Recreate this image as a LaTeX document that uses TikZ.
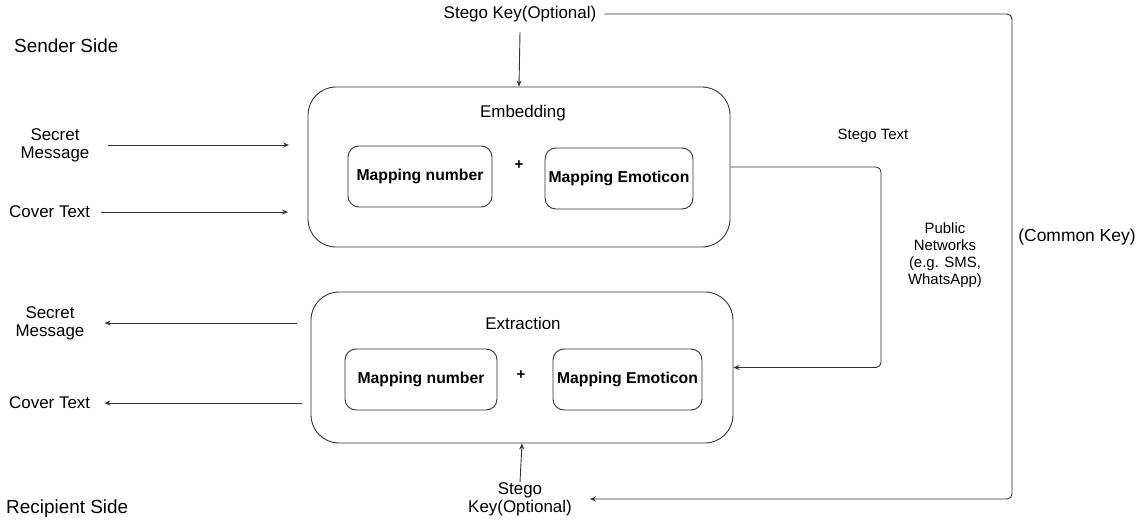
\documentclass[tikz,border=0pt]{standalone}
\usepackage{fontspec}
\setmainfont{Liberation Sans}
\usetikzlibrary{positioning,arrows.meta}

\tikzset{
  bigbox/.style={draw=black!80, line width=0.9bp, rounded corners=28bp, inner sep=0},
  mapbox/.style={draw=black!80, line width=0.9bp, rounded corners=11bp, inner sep=0,
    font=\bfseries\fontsize{15.8}{18}\selectfont},
  lbl/.style={font=\fontsize{17}{18}\selectfont, align=center, inner sep=0},
  smalllbl/.style={font=\fontsize{15}{17}\selectfont, align=center, inner sep=0},
  sidelbl/.style={font=\fontsize{19}{21}\selectfont, inner sep=0},
  plussign/.style={font=\bfseries\fontsize{15}{17}\selectfont, inner sep=0},
  link/.style={draw=black!80, line width=0.9bp, -{Stealth[length=6bp,width=5bp]}},
}

\begin{document}
\begin{tikzpicture}[x=1bp,y=-1bp]
\useasboundingbox (0,0) rectangle (1144,520);
% Seiten
\node[sidelbl,anchor=west] (sender) at (14,46) {Sender Side};
\node[sidelbl,anchor=west] (recipient) at (6,509) {Recipient Side};
% Embedding
\node[bigbox,minimum width=422bp,minimum height=160bp] (emb) at (519,167) {};
\node[lbl] (embtitle) at (523,113) {Embedding};
\node[mapbox,minimum width=144bp,minimum height=61bp] (embnum) at (420,176.5) {Mapping number};
\node[plussign] (embplus) at (519,165) {+};
\node[mapbox,minimum width=148bp,minimum height=61bp] (embemo) at (619,178.5) {Mapping Emoticon};
% Extraction
\node[bigbox,minimum width=422bp,minimum height=151bp] (ext) at (522,367.5) {};
\node[lbl] (exttitle) at (523,323) {Extraction};
\node[mapbox,minimum width=152bp,minimum height=61bp] (extnum) at (421,379.5) {Mapping number};
\node[plussign] (extplus) at (521,375) {+};
\node[mapbox,minimum width=149bp,minimum height=61bp] (extemo) at (627.5,379.5) {Mapping Emoticon};
% Eingaben / Ausgaben
\node[lbl] (secretin) at (55,145) {Secret\\Message};
\node[lbl,anchor=west] (coverin) at (9,212) {Cover Text};
\node[lbl] (secretout) at (50,323) {Secret\\Message};
\node[lbl,anchor=west] (coverout) at (9,403) {Cover Text};
% Schluessel
\node[lbl] (keyin) at (520,14) {Stego Key(Optional)};
\node[lbl] (keyout) at (520,499) {Stego\\Key(Optional)};
% Rechts
\node[smalllbl] (stegotext) at (873,136) {Stego Text};
\node[smalllbl] (network) at (945,255.5) {Public\\Networks\\(e.g. SMS,\\WhatsApp)};
\node[lbl,font=\fontsize{17.5}{19}\selectfont] (commonkey) at (1077,237) {(Common Key)};

\coordinate (secretend) at (289,145);
\coordinate (coverend) at (288,212);
\coordinate (secretstart) at (297,323);
\coordinate (coverstart) at (302,403);
\coordinate (netturn) at (881,167);
\coordinate (keyturn) at (1012,14);

% Pfeile
\draw[link] ([xshift=18bp]secretin.east) -- (secretend);
\draw[link] ([xshift=11bp]coverin.east) -- (coverend);
\draw[link] (secretstart) -- ([xshift=20bp]secretout.east);
\draw[link] (coverstart) -- ([xshift=14bp]coverout.east);
\draw[link] ([yshift=-10bp]keyin.south) -- (emb.north);
\draw[link] (keyout.north) -- (ext.south);
\draw[link,rounded corners=5bp] (emb.east) -- (netturn) |- (ext.east);
\draw[link,rounded corners=5bp] ([xshift=8bp]keyin.east) -- (keyturn) |- ([xshift=18bp]keyout.east);
\end{tikzpicture}
\end{document}
